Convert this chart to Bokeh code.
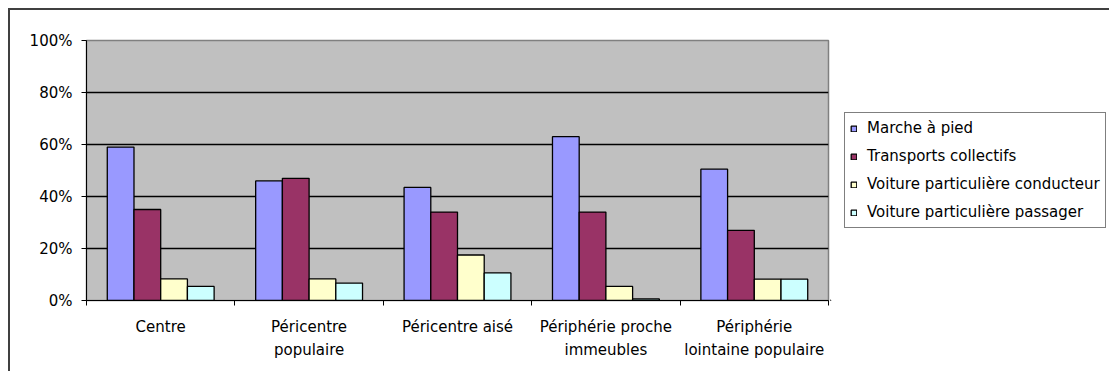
from bokeh.plotting import figure
from bokeh.layouts import row
from bokeh.models import (Range1d, FixedTicker, PrintfTickFormatter, Legend, LegendItem, ColumnDataSource)
from bokeh.transform import dodge
from bokeh.embed import file_html
from bokeh.resources import INLINE

categories = ["Centre", "Péricentre\npopulaire", "Péricentre aisé",
              "Périphérie proche\nimmeubles", "Périphérie\nlointaine populaire"]
series_names = ["Marche à pied", "Transports collectifs",
                "Voiture particulière conducteur", "Voiture particulière passager"]
marche = [59, 46, 43.5, 63, 50.5]
transports = [35, 47, 34, 34, 27]
conducteur = [8.3, 8.3, 17.5, 5.4, 8.2]
passager = [5.4, 6.7, 10.6, 0.6, 8.2]
y_ticks = [0, 20, 40, 60, 80, 100]
colors = ["#9999FF", "#993366", "#FFFFCC", "#CCFFFF"]

n = len(categories)
idx = list(range(n))
src = ColumnDataSource(dict(x=idx, s0=marche, s1=transports, s2=conducteur, s3=passager))

FONT = "DejaVu Sans"
H = 361

p = figure(width=820, height=H, x_range=Range1d(-0.5, n - 0.5), y_range=Range1d(0, 100),
           output_backend="svg", toolbar_location=None,
           min_border_left=76, min_border_top=30, min_border_right=2, min_border_bottom=71)
p.background_fill_color = "#C0C0C0"
p.border_fill_color = "white"
p.outline_line_color = "#808080"
p.outline_line_width = 1.5

xa = p.xaxis[0]
xa.ticker = FixedTicker(ticks=idx, minor_ticks=[i - 0.5 for i in range(n + 1)])
xa.major_label_overrides = {i: c for i, c in zip(idx, categories)}
xa.major_tick_out = 0
xa.major_tick_in = 0
xa.minor_tick_out = 5
xa.minor_tick_in = 0
xa.minor_tick_line_color = "black"
xa.axis_line_color = "black"
xa.major_label_text_font = FONT
xa.major_label_text_font_size = "15px"
xa.major_label_text_color = "black"
xa.major_label_text_line_height = 1.3
xa.major_label_standoff = 12

ya = p.yaxis[0]
ya.ticker = FixedTicker(ticks=y_ticks)
ya.formatter = PrintfTickFormatter(format="%d%%")
ya.major_label_text_font = FONT
ya.major_label_text_font_size = "15px"
ya.major_label_text_color = "black"
ya.major_tick_out = 5
ya.major_tick_in = 0
ya.minor_tick_line_color = None
ya.axis_line_color = "black"
ya.major_label_standoff = 9

p.xgrid.visible = False
p.ygrid.ticker = FixedTicker(ticks=y_ticks[1:-1])
p.ygrid.grid_line_color = "black"
p.ygrid.grid_line_width = 1.5

offsets = [-0.27, -0.09, 0.09, 0.27]
for i, col in enumerate(colors):
    p.vbar(x=dodge("x", offsets[i]), top="s%d" % i, width=0.18,
           source=src, fill_color=col, line_color="black", line_width=1.3)

# legend panel to the right of the plot area (proxy glyphs lie outside its visible ranges)
lf = figure(width=1099 - 820, height=H, x_range=Range1d(0, 1), y_range=Range1d(0, 1),
            output_backend="svg", toolbar_location=None, x_axis_location=None, y_axis_location=None,
            min_border=0, min_border_left=0, min_border_right=0, min_border_top=0, min_border_bottom=0)
lf.outline_line_color = None
lf.grid.visible = False
lf.border_fill_color = "white"
lf.background_fill_color = "white"
items = []
for name, col in zip(series_names, colors):
    r = lf.vbar(x=[-5], top=[-5], bottom=[-6], width=0.1, fill_color=col, line_color="black", line_width=1.3)
    items.append(LegendItem(label=name, renderers=[r]))

legend = Legend(items=items, location=(14, 72), glyph_width=7, glyph_height=7,
                label_height=20, spacing=8, padding=5, margin=0, label_standoff=10,
                label_text_font=FONT, label_text_font_size="15px", label_text_color="black",
                border_line_color="black", border_line_width=1, background_fill_color="white",
                background_fill_alpha=1)
lf.add_layout(legend, "center")

lay = row(p, lf, spacing=0)
lay.margin = (8, 0, 0, 8)
lay.styles = {"border-top": "2px solid #404040", "border-left": "2px solid #404040"}

open("out.html", "w").write(file_html(lay, INLINE))
